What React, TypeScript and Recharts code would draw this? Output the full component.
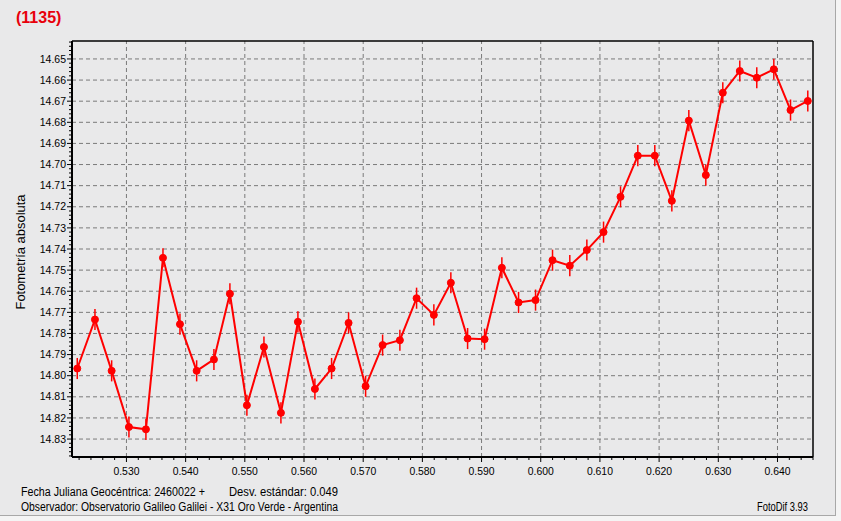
import React from 'react';
import { LineChart, Line, XAxis, YAxis, ErrorBar, ReferenceLine } from 'recharts';

// Fractional Julian day (2460022 + x)
const jdOffsets = [
  0.52169, 0.52468, 0.5275, 0.53042, 0.53329, 0.53617, 0.53904, 0.54186, 0.54478, 0.54748,
  0.55035, 0.55323, 0.5561, 0.55897, 0.56184, 0.56466, 0.56753, 0.57041, 0.57328, 0.5762,
  0.57902, 0.58194, 0.58481, 0.58764, 0.59051, 0.59343, 0.59625, 0.59912, 0.60199, 0.60491,
  0.60779, 0.61061, 0.61348, 0.6164, 0.61927, 0.62215, 0.62502, 0.62789, 0.63076, 0.63363,
  0.6365, 0.63938, 0.6422, 0.64512,
];
// Absolute photometry (mag)
const magnitudes = [
  14.7966, 14.7734, 14.7977, 14.8243, 14.8254, 14.7442, 14.7756, 14.7977, 14.7923, 14.7612,
  14.814, 14.7864, 14.8176, 14.7745, 14.8063, 14.7966, 14.775, 14.805, 14.7855, 14.7832,
  14.7633, 14.7712, 14.756, 14.7824, 14.7827, 14.7489, 14.7653, 14.7642, 14.7453, 14.7479,
  14.7405, 14.732, 14.7153, 14.6958, 14.6958, 14.7172, 14.6792, 14.705, 14.666, 14.6557,
  14.6589, 14.6549, 14.6742, 14.6699,
];
const magErrors = [
  0.005, 0.005, 0.005, 0.005, 0.005, 0.0045, 0.005, 0.005, 0.005, 0.005,
  0.005, 0.005, 0.005, 0.005, 0.005, 0.005, 0.005, 0.005, 0.005, 0.005,
  0.005, 0.005, 0.005, 0.005, 0.005, 0.005, 0.005, 0.005, 0.005, 0.005,
  0.005, 0.005, 0.005, 0.005, 0.005, 0.005, 0.005, 0.005, 0.005, 0.005,
  0.005, 0.005, 0.005, 0.005,
];

const xMajorTicks = [0.53, 0.54, 0.55, 0.56, 0.57, 0.58, 0.59, 0.6, 0.61, 0.62, 0.63, 0.64];
const yMajorTicks = [
  14.65, 14.66, 14.67, 14.68, 14.69, 14.7, 14.71, 14.72, 14.73, 14.74,
  14.75, 14.76, 14.77, 14.78, 14.79, 14.8, 14.81, 14.82, 14.83,
];

const X_MIN = 0.5208;
const X_MAX = 0.646;
const Y_MIN = 14.6415;
const Y_MAX = 14.8385;

const buildMinor = (from: number, to: number, step: number) => {
  const out: number[] = [];
  const n = Math.round((to - from) / step);
  for (let i = 0; i <= n; i++) out.push(Math.round((from + i * step) * 10000) / 10000);
  return out;
};
const xAllTicks = buildMinor(0.522, 0.646, 0.002);
const yAllTicks = buildMinor(14.642, 14.838, 0.002);

const data = jdOffsets.map((x, i) => ({ x, mag: magnitudes[i], err: magErrors[i] }));

const FONT = '"Liberation Sans", Arial, sans-serif';
const isMajor = (v: number) => Math.abs(v * 100 - Math.round(v * 100)) < 1e-6;

const XTick = (props: any) => {
  const { x, y, payload } = props;
  const v = Number(payload.value);
  const major = isMajor(v);
  return (
    <g>
      <line x1={x} x2={x} y1={y} y2={y + (major ? 5 : 3)} stroke="#000" strokeWidth={1} />
      {major && (
        <text x={x} y={y + 18} textAnchor="middle" fontSize={11} fontFamily={FONT} fill="#000" textLength={26} lengthAdjust="spacingAndGlyphs">
          {v.toFixed(3)}
        </text>
      )}
    </g>
  );
};

const YTick = (props: any) => {
  const { x, y, payload } = props;
  const v = Number(payload.value);
  const major = isMajor(v);
  return (
    <g>
      <line x1={x - (major ? 5 : 3)} x2={x} y1={y} y2={y} stroke="#000" strokeWidth={1} />
      {major && (
        <text x={x - 6} y={y} dy="0.35em" textAnchor="end" fontSize={10.5} fontFamily={FONT} fill="#000">
          {v.toFixed(2)}
        </text>
      )}
    </g>
  );
};

export default function App() {
  return (
    <div style={{ position: 'absolute', left: 0, top: 0, width: 841, height: 521, background: '#f4f4f4' }}>
      <div
        style={{
          position: 'absolute',
          left: 0,
          top: 0,
          width: 835,
          height: 515,
          background: '#e9e9ea',
          borderRight: '1px solid #a8a8a8',
          borderBottom: '1px solid #a8a8a8',
        }}
      />
      <div style={{ position: 'absolute', left: 0, top: 0 }}>
        <LineChart width={841} height={521} data={data} margin={{ top: 41, right: 28, bottom: 34, left: 0 }}>
          {xMajorTicks.map((t) => (
            <ReferenceLine key={'gx' + t} x={t} stroke="#7a7a7a" strokeDasharray="4 3" strokeWidth={1} />
          ))}
          {yMajorTicks.map((t) => (
            <ReferenceLine key={'gy' + t} y={t} stroke="#7a7a7a" strokeDasharray="4 3" strokeWidth={1} />
          ))}
          <ReferenceLine y={Y_MIN} stroke="#000" strokeWidth={1.5} />
          <ReferenceLine x={X_MAX} stroke="#000" strokeWidth={1.5} />
          <XAxis
            dataKey="x"
            type="number"
            domain={[X_MIN, X_MAX]}
            allowDataOverflow
            ticks={xAllTicks}
            interval={0}
            tickLine={false}
            tickSize={0}
            tickMargin={0}
            tick={<XTick />}
            axisLine={{ stroke: '#000', strokeWidth: 2 }}
            height={30}
          />
          <YAxis
            type="number"
            domain={[Y_MIN, Y_MAX]}
            allowDataOverflow
            reversed
            ticks={yAllTicks}
            interval={0}
            tickLine={false}
            tickSize={0}
            tickMargin={0}
            tick={<YTick />}
            axisLine={{ stroke: '#000', strokeWidth: 2 }}
            width={72}
          />
          <Line
            dataKey="mag"
            type="linear"
            stroke="#ff0000"
            strokeWidth={2}
            dot={{ r: 3.5, fill: '#ff0000', stroke: '#ff0000', strokeWidth: 1 }}
            isAnimationActive={false}
          >
            <ErrorBar dataKey="err" direction="y" width={0} stroke="#ff0000" strokeWidth={1.5} />
          </Line>
        </LineChart>
      </div>
      <svg
        width={841}
        height={521}
        style={{ position: 'absolute', left: 0, top: 0, pointerEvents: 'none' }}
      >
        <text x={16} y={22.5} fontSize={16} fontWeight="bold" fontFamily={FONT} fill="#e8000b">
          (1135)
        </text>
        <text
          x={0}
          y={0}
          transform="translate(24.5, 252) rotate(-90)"
          textAnchor="middle"
          fontSize={12}
          fontFamily={FONT}
          fill="#000"
          textLength={115}
          lengthAdjust="spacingAndGlyphs"
        >
          Fotometría absoluta
        </text>
        <text x={21} y={496} fontSize={12} fontFamily={FONT} fill="#000" textLength={184} lengthAdjust="spacingAndGlyphs">
          Fecha Juliana Geocéntrica: 2460022 +
        </text>
        <text x={229} y={496} fontSize={12} fontFamily={FONT} fill="#000" textLength={109} lengthAdjust="spacingAndGlyphs">
          Desv. estándar: 0.049
        </text>
        <text x={21} y={511} fontSize={12} fontFamily={FONT} fill="#000" textLength={317} lengthAdjust="spacingAndGlyphs">
          Observador: Observatorio Galileo Galilei - X31 Oro Verde - Argentina
        </text>
        <text x={757} y={511} fontSize={12} fontFamily={FONT} fill="#000" textLength={51} lengthAdjust="spacingAndGlyphs">
          FotoDif 3.93
        </text>
      </svg>
    </div>
  );
}
